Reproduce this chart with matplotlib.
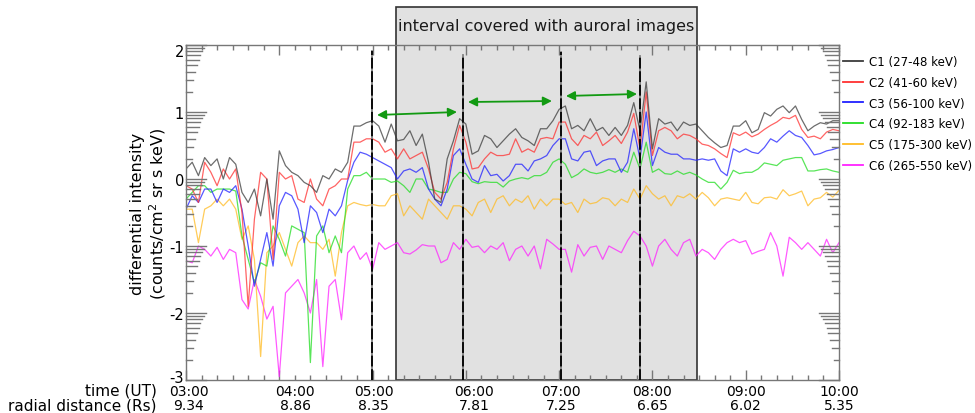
import numpy as np
import matplotlib
matplotlib.use("Agg")
import matplotlib.pyplot as plt
from matplotlib.patches import Rectangle
from matplotlib.transforms import ScaledTranslation

# ---------------- data ----------------
minutes = np.arange(0, 421, 4)          # minutes after 03:00 UT
hours = minutes / 60.0

c1 = [0.15, 0.25, 0.05, 0.32, 0.2,
      0.3, 0.0, 0.32, 0.22, -0.2,
      -0.35, -0.15, -0.55, 0.0, -0.6,
      0.42, 0.2, 0.1, 0.05, -0.05,
      -0.1, -0.2, 0.05, 0.0, 0.15,
      0.1, 0.25, 0.79, 0.79, 0.84,
      0.87, 0.79, 0.55, 0.82, 0.57,
      0.59, 0.72, 0.5, 0.67, 0.25,
      -0.3, -0.35, 0.3, 0.57, 0.9,
      0.82, 0.37, 0.42, 0.65, 0.6,
      0.47, 0.57, 0.67, 0.75, 0.62,
      0.57, 0.5, 0.75, 0.75, 0.87,
      1.04, 1.09, 0.75, 0.8, 0.72,
      0.9, 0.72, 0.77, 0.65, 0.77,
      0.65, 0.8, 1.14, 0.72, 1.45,
      0.45, 0.9, 0.82, 0.85, 0.72,
      0.85, 0.8, 0.82, 0.72, 0.62,
      0.54, 0.47, 0.5, 0.79, 0.79,
      0.87, 0.69, 0.74, 0.99, 0.94,
      1.04, 1.09, 0.99, 1.09, 0.89,
      0.72, 0.79, 0.84, 0.82, 0.87,
      0.87]

c2 = [-0.1, -0.15, -0.35, 0.25, 0.1,
      -0.1, 0.15, 0.0, 0.15, -0.5,
      -1.9, -0.6, 0.1, 0.0, -1.2,
      0.1, 0.0, 0.05, -0.3, -0.35,
      0.0, -0.3, -0.4, -0.15, -0.1,
      0.0, 0.0, 0.55, 0.55, 0.6,
      0.6, 0.55, 0.4, 0.45, 0.3,
      0.45, 0.3, 0.35, 0.4, 0.15,
      -0.2, -0.3, -0.05, 0.45, 0.8,
      0.55, 0.15, 0.17, 0.3, 0.4,
      0.35, 0.35, 0.37, 0.6, 0.4,
      0.45, 0.4, 0.6, 0.62, 0.6,
      0.85, 0.85, 0.6, 0.5, 0.65,
      0.6, 0.7, 0.5, 0.57, 0.65,
      0.53, 0.7, 0.98, 0.45, 1.3,
      0.35, 0.72, 0.77, 0.72, 0.6,
      0.67, 0.65, 0.6, 0.52, 0.5,
      0.45, 0.38, 0.32, 0.69, 0.65,
      0.7, 0.63, 0.67, 0.74, 0.8,
      0.85, 0.92, 0.9, 0.95, 0.74,
      0.62, 0.64, 0.6, 0.7, 0.74,
      0.72]

c3 = [-0.45, -0.25, -0.35, -0.15, -0.15,
      -0.35, -0.15, -0.2, -0.1, -0.45,
      -1.0, -1.6, -1.2, -0.8, -1.3,
      -0.4, -0.2, -0.25, -0.45, -0.95,
      -0.4, -0.5, -0.8, -0.45, -0.55,
      -0.4, -0.02, 0.25, 0.4, 0.37,
      0.32, 0.27, 0.22, 0.17, 0.0,
      0.12, 0.15, 0.1, 0.17, -0.15,
      -0.3, -0.4, -0.15, 0.35, 0.45,
      0.22, 0.0, -0.05, 0.2, 0.05,
      0.07, -0.03, 0.05, 0.22, 0.22,
      0.12, 0.27, 0.3, 0.35, 0.5,
      0.6, 0.6, 0.3, 0.27, 0.4,
      0.42, 0.2, 0.27, 0.3, 0.3,
      0.1, 0.25, 0.75, 0.3, 1.0,
      0.2, 0.47, 0.4, 0.37, 0.37,
      0.3, 0.3, 0.28, 0.3, 0.28,
      0.3, 0.12, 0.05, 0.45, 0.4,
      0.45, 0.4, 0.38, 0.47, 0.6,
      0.55, 0.64, 0.72, 0.65, 0.62,
      0.5, 0.36, 0.38, 0.42, 0.44,
      0.47]

c4 = [-0.3, -0.2, -0.1, -0.1, -0.2,
      -0.15, -0.15, -0.15, -0.18, -0.85,
      -1.2, -1.55, -1.25, -1.3, -0.7,
      -0.9, -1.15, -0.7, -0.75, -0.8,
      -2.74, -0.85, -0.7, -1.1, -0.85,
      -1.1, -0.15, 0.05, 0.05, 0.1,
      0.0, 0.0, 0.0, -0.05, -0.03,
      -0.1, -0.2, 0.0, 0.0, -0.15,
      -0.17, -0.2, -0.2, 0.0, 0.1,
      0.08, -0.04, -0.07, -0.04, -0.05,
      -0.05, -0.12, -0.03, 0.0, 0.02,
      0.0, 0.05, 0.05, 0.1, 0.25,
      0.3, 0.22, 0.02, 0.07, 0.15,
      0.1, 0.08, 0.1, 0.14, 0.1,
      0.15, 0.1, 0.4, 0.15, 0.55,
      0.1, 0.15, 0.08, 0.07, 0.12,
      0.07, 0.1, 0.06, 0.0, -0.05,
      -0.05, -0.15, -0.05, 0.13, 0.08,
      0.1, 0.1, 0.15, 0.24, 0.22,
      0.2, 0.28, 0.3, 0.32, 0.32,
      0.12, 0.12, 0.14, 0.15, 0.12,
      0.1]

c5 = [-0.45, -0.45, -0.95, -0.45, -0.4,
      -0.3, -0.4, -0.3, -0.45, -0.9,
      -0.7, -1.2, -2.65, -1.1, -1.0,
      -0.8, -1.05, -1.3, -0.95, -0.85,
      -0.95, -0.95, -1.05, -0.9, -1.45,
      -0.8, -0.4, -0.35, -0.38, -0.4,
      -0.38, -0.4, -0.4, -0.25, -0.22,
      -0.55, -0.4, -0.5, -0.6, -0.3,
      -0.4, -0.5, -0.6, -0.4, -0.4,
      -0.45, -0.55, -0.35, -0.3, -0.5,
      -0.3, -0.25, -0.4, -0.3, -0.35,
      -0.25, -0.45, -0.3, -0.4, -0.3,
      -0.3, -0.38, -0.35, -0.5, -0.3,
      -0.37, -0.35, -0.28, -0.3, -0.4,
      -0.3, -0.35, -0.15, -0.3, -0.1,
      -0.22, -0.3, -0.25, -0.4, -0.25,
      -0.28, -0.22, -0.3, -0.2, -0.28,
      -0.4, -0.3, -0.28, -0.3, -0.32,
      -0.2, -0.35, -0.37, -0.28, -0.27,
      -0.3, -0.16, -0.25, -0.22, -0.18,
      -0.4, -0.3, -0.28, -0.2, -0.27,
      -0.17]

c6 = [-1.22, -1.25, -1.0, -1.05, -1.15,
      -1.02, -1.2, -1.05, -1.1, -1.8,
      -1.94, -1.5, -1.75, -2.09, -1.9,
      -2.95, -1.7, -1.6, -1.5, -1.7,
      -2.0, -1.5, -2.8, -1.6, -1.5,
      -2.1, -1.1, -1.0, -1.2, -1.1,
      -1.35, -0.95, -1.05, -1.0, -0.95,
      -1.1, -1.12, -1.06, -0.98, -1.0,
      -1.0, -1.25, -1.2, -0.95, -1.05,
      -0.9, -1.02, -1.0, -1.1, -1.0,
      -1.05, -0.95, -1.22, -1.05, -1.0,
      -1.15, -1.0, -1.34, -0.9, -0.97,
      -1.05, -1.05, -1.39, -0.98, -1.15,
      -1.02, -1.0, -1.2, -1.0, -1.05,
      -1.1, -0.92, -0.78, -0.85, -1.0,
      -1.3, -1.0, -0.9, -1.05, -1.15,
      -0.95, -0.9, -1.15, -1.05, -1.1,
      -1.2, -1.05, -0.95, -0.9, -0.95,
      -0.92, -1.12, -1.08, -1.05, -0.8,
      -1.0, -1.45, -0.87, -0.95, -1.05,
      -0.95, -1.05, -1.15, -0.9, -1.1,
      -0.95]

series_labels = ["C1 (27-48 keV)", "C2 (41-60 keV)", "C3 (56-100 keV)",
                 "C4 (92-183 keV)", "C5 (175-300 keV)", "C6 (265-550 keV)"]
series_colors = ["#3c3c3c", "#ff3030", "#2020ff", "#22dd22", "#ffbb22", "#ff22ff"]

tick_times = ["03:00", "04:00", "05:00", "06:00", "07:00", "08:00", "09:00", "10:00"]
tick_radial = ["9.34", "8.86", "8.35", "7.81", "7.25", "6.65", "6.02", "5.35"]
ytick_vals = [-3, -2, -1, 0, 1, 2]

interval_start, interval_end = 2.25, 5.478          # hours after 03:00
event_times = [1.994, 2.969, 4.02, 4.866]
event_tops = [1.91, 1.85, 1.90, 1.84]
arrow_x0 = [2.048, 3.023, 4.073]
arrow_x1 = [2.905, 3.923, 4.835]
arrow_y0 = [0.955, 1.149, 1.239]
arrow_y1 = [1.0, 1.164, 1.269]

# ---------------- figure ----------------
W, H = 975, 414
fig = plt.figure(figsize=(W / 100, H / 100), dpi=100)
ax_l, ax_b, ax_w, ax_h = 186, 381, 653, 335
ax = fig.add_axes([ax_l / W, 1 - ax_b / H, ax_w / W, ax_h / H])
ax.set_xlim(0, 7)
ax.set_ylim(-3, 2)

# shaded interval box (extends above axes)
box_top = (ax_b - 8) / ax_h
rect = Rectangle((interval_start, 0), interval_end - interval_start, box_top,
                 transform=ax.get_xaxis_transform(), facecolor="#e1e1e1",
                 edgecolor="#333333", lw=1.2, clip_on=False, zorder=0.5)
ax.add_patch(rect)
ax.text((interval_start + interval_end) / 2, (ax_b - 27) / ax_h,
        "interval covered with auroral images", transform=ax.get_xaxis_transform(),
        ha="center", va="center", fontsize=11.5, color="#1a1a1a")

# data lines
all_series = [c1, c2, c3, c4, c5, c6]
for vals, lab, col in reversed(list(zip(all_series, series_labels, series_colors))):
    ax.plot(hours, vals, color=col, lw=0.9, alpha=0.75, label=lab, zorder=2)

# vertical event lines
for t, top in zip(event_times, event_tops):
    ax.plot([t, t], [-3, top], color="#808080", lw=1.3, zorder=3)
    ax.plot([t, t], [-3, top], color="black", lw=1.3, dashes=(6, 1.5), zorder=3.1)

# green double arrows
for xa, xb, ya, yb in zip(arrow_x0, arrow_x1, arrow_y0, arrow_y1):
    ax.annotate("", xy=(xb, yb), xytext=(xa, ya),
                arrowprops=dict(arrowstyle="<|-|>", color="#129a12", lw=1.3,
                                mutation_scale=13, shrinkA=0, shrinkB=0), zorder=4)

# spines
for s in ax.spines.values():
    s.set_color("#777777")
    s.set_linewidth(1.0)

# x ticks
ax.set_xticks(range(8))
ax.set_xticklabels([f"{a}\n{b}" for a, b in zip(tick_times, tick_radial)], fontsize=10)
ax.set_xticks(np.arange(0, 7.001, 1 / 6), minor=True)
ax.tick_params(axis="x", which="major", direction="in", length=7.5, width=1,
               color="#777777", top=True, pad=3)
ax.tick_params(axis="x", which="minor", direction="in", length=3.5, width=1,
               color="#777777", top=True)
xlabel_shift_px = [3, 16, 1, 8, 2, 0, 0, 0]
for lbl, dx in zip(ax.get_xticklabels(), xlabel_shift_px):
    lbl.set_linespacing(1.0)
    lbl.set_transform(lbl.get_transform() + ScaledTranslation(dx / 100, 0, fig.dpi_scale_trans))

# y ticks: labels only, ticks drawn manually (log-decade style)
ax.set_yticks(ytick_vals)
ax.set_yticklabels([str(v) for v in ytick_vals], fontsize=10.5)
ax.tick_params(axis="y", length=0, pad=1.5)
ylabel_shift_px = [4, 0, 0, 0, 0, -5]
for lbl, dy in zip(ax.get_yticklabels(), ylabel_shift_px):
    lbl.set_transform(lbl.get_transform() + ScaledTranslation(0, dy / 100, fig.dpi_scale_trans))
ytr = ax.get_yaxis_transform()
for d in ytick_vals:
    L = 20 / ax_w
    ax.plot([0, L], [d, d], color="#777777", lw=1, transform=ytr, clip_on=False, zorder=5)
    ax.plot([1 - L, 1], [d, d], color="#777777", lw=1, transform=ytr, clip_on=False, zorder=5)
    if d < 2:
        for k in range(2, 10):
            y = d + np.log10(k)
            L = (2 + 1.75 * k) / ax_w
            ax.plot([0, L], [y, y], color="#777777", lw=1, transform=ytr, clip_on=False, zorder=5)
            ax.plot([1 - L, 1], [y, y], color="#777777", lw=1, transform=ytr, clip_on=False, zorder=5)

ax.set_ylabel("differential intensity\n(counts/cm$^2$ sr s keV)", fontsize=11.5,
              linespacing=1.15)
ax.yaxis.set_label_coords((168 - ax_l) / ax_w, 0.5)

# bottom-left row titles
fig.text(157 / W, 1 - 391 / H, "time (UT)", ha="right", va="center", fontsize=11)
fig.text(157 / W, 1 - 406 / H, "radial distance (Rs)", ha="right", va="center", fontsize=11)

# legend (C1..C6 order)
hs, ls = ax.get_legend_handles_labels()
order = [ls.index(l) for l in series_labels]
leg = ax.legend([hs[i] for i in order], [ls[i] for i in order],
                loc="upper left", bbox_to_anchor=(843 / W, 1 - 56 / H),
                bbox_transform=fig.transFigure, frameon=False, fontsize=8.5,
                handlelength=1.7, handletextpad=0.5, labelspacing=0.66,
                borderaxespad=0, borderpad=0)
handles = leg.legend_handles if hasattr(leg, "legend_handles") else leg.legendHandles
for h in handles:
    h.set_alpha(1.0)
    h.set_linewidth(1.3)

fig.savefig("out.png", dpi=100)
